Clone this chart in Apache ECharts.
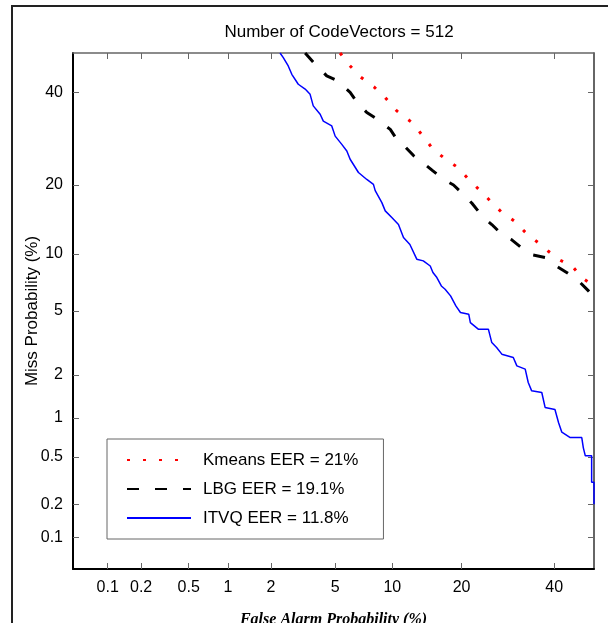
<!DOCTYPE html>
<html>
<head>
<meta charset="utf-8">
<script src="https://cdn.jsdelivr.net/npm/echarts@6/dist/echarts.min.js"></script>
<style>
  html, body { margin: 0; padding: 0; background: #fff; }
  #chart { width: 608px; height: 623px; }
</style>
</head>
<body>
<div id="chart"></div>
<script>
// tick labels (percent), same on both axes
const tickValues = [0.1, 0.2, 0.5, 1, 2, 5, 10, 20, 40]

// ITVQ curve: false alarm % / miss %
const itvqFa = [2.3, 2.41, 2.6, 2.74, 3.01, 3.32, 3.56, 3.72, 4.09, 4.27, 4.78, 5.0, 5.45, 5.81, 6.06, 6.72, 7.44, 8.05, 8.22, 8.88,
  9.23, 9.94, 10.7, 11.3, 12.1, 13.0, 13.9, 14.9, 15.3, 15.9, 16.6, 17.2, 18.1, 19.0, 19.8, 21.3, 21.6, 23.1, 25.1, 25.8,
  26.8, 27.9, 30.4, 31.2, 33.1, 33.8, 34.6, 37.0, 37.8, 40.2, 41.1, 41.9, 44.0, 46.9, 47.3, 47.8, 49.4, 49.4, 50, 50]
const itvqMiss = [50, 48.9, 46.7, 44.6, 42.1, 40.9, 39.6, 36.8, 34.8, 33.2, 32.1, 29.8, 28.0, 26.6, 24.9, 22.3, 21.0, 20.1, 19.0, 17.0,
  15.7, 14.7, 13.7, 11.96, 11.1, 9.43, 9.25, 8.72, 8.08, 7.61, 6.87, 6.60, 6.07, 5.34, 4.90, 4.79, 4.28, 3.91, 3.91, 3.24,
  3.02, 2.74, 2.61, 2.30, 2.19, 1.78, 1.56, 1.52, 1.19, 1.15, 0.92, 0.78, 0.71, 0.71, 0.59, 0.51, 0.51, 0.31, 0.31, 0.20]

// LBG curve
const lbgFa = [3.32, 3.81, 4.47, 5.10, 6.06, 6.63, 7.44, 8.43, 9.77, 10.5, 11.6, 12.6, 14.1, 15.3, 17.1, 18.6, 20.6, 21.9, 24.1, 25.8,
  28.2, 30.0, 32.3, 34.0, 37.8, 39.8, 43.1, 45.7, 48.6, 50]
const lbgMiss = [50, 47.2, 44.2, 43.1, 40.1, 37.6, 35.2, 33.6, 31.3, 29.1, 27.3, 25.6, 23.9, 22.6, 20.9, 20.0, 18.1, 16.9, 14.7, 13.7,
  12.2, 11.7, 10.7, 9.97, 9.61, 8.90, 8.08, 7.45, 6.46, 5.97]

// Kmeans curve
const kmFa = [5.33, 5.98, 6.86, 8.12, 9.23, 10.5, 12.5, 13.9, 15.3, 17.1, 19.3, 21.2, 22.8, 25.1, 27.7, 30.6, 33.2, 36.2, 38.6, 41.5,
  44.6, 46.9, 50]
const kmMiss = [50, 47.0, 44.0, 41.4, 38.8, 35.6, 32.7, 29.7, 27.0, 25.1, 23.3, 21.1, 19.6, 17.6, 15.6, 14.2, 12.6, 11.3, 10.3, 9.32,
  8.66, 7.61, 6.87]

const seriesNames = ["Kmeans EER = 21%", "LBG EER = 19.1%", "ITVQ EER = 11.8%"]

// inverse normal cdf (Acklam), DET plots use normal deviate scale
function probit(p) {
  const a = [-3.969683028665376e+01, 2.209460984245205e+02, -2.759285104469687e+02, 1.383577518672690e+02, -3.066479806614716e+01, 2.506628277459239e+00]
  const b = [-5.447609879822406e+01, 1.615858368580409e+02, -1.556989798598866e+02, 6.680131188771972e+01, -1.328068155288572e+01]
  const c = [-7.784894002430293e-03, -3.223964580411365e-01, -2.400758277161838e+00, -2.549732539343734e+00, 4.374664141464968e+00, 2.938163982698783e+00]
  const d = [7.784695709041462e-03, 3.224671290700398e-01, 2.445134137142996e+00, 3.754408661907416e+00]
  const plow = 0.02425
  if (p < plow) {
    const q = Math.sqrt(-2 * Math.log(p))
    return (((((c[0] * q + c[1]) * q + c[2]) * q + c[3]) * q + c[4]) * q + c[5]) / ((((d[0] * q + d[1]) * q + d[2]) * q + d[3]) * q + 1)
  }
  if (p <= 1 - plow) {
    const q = p - 0.5, r = q * q
    return (((((a[0] * r + a[1]) * r + a[2]) * r + a[3]) * r + a[4]) * r + a[5]) * q / (((((b[0] * r + b[1]) * r + b[2]) * r + b[3]) * r + b[4]) * r + 1)
  }
  return -probit(1 - p)
}

const pct = (v) => probit(v / 100)
const toPoints = (fa, miss) => fa.map((f, i) => [pct(f), pct(miss[i])])
const tickPos = tickValues.map(pct)
const tickLabel = (v) => {
  let best = 0
  tickPos.forEach((t, i) => { if (Math.abs(t - v) < Math.abs(tickPos[best] - v)) best = i })
  return String(tickValues[best])
}

const font = "Liberation Sans, Arial, sans-serif"
const xMin = -3.311
const yMin = pct(0.05)

const chart = echarts.init(document.getElementById("chart"), null, { renderer: "canvas" })

const mirrorTick = { show: true, inside: true, length: 6, customValues: tickPos, lineStyle: { color: "#666", width: 1 } }

chart.setOption({
  animation: false,
  backgroundColor: "#fff",
  title: {
    text: "Number of CodeVectors = 512",
    left: 334,
    top: 19,
    textAlign: "center",
    textStyle: { fontFamily: font, fontSize: 17, fontWeight: "normal", color: "#000" },
  },
  graphic: [
    {
      type: "rect",
      shape: { x: 12, y: 6, width: 640, height: 660 },
      style: { fill: "none", stroke: "#222", lineWidth: 2 },
      silent: true,
    },
  ],
  grid: { left: 73, top: 53, width: 521, height: 516, show: false, outerBoundsMode: "none", containLabel: false },
  legend: {
    data: seriesNames,
    orient: "vertical",
    left: 107,
    top: 439,
    itemWidth: 64,
    itemHeight: 14,
    itemGap: 9,
    padding: [11, 25, 11, 19],
    borderColor: "#666",
    borderWidth: 1,
    backgroundColor: "#fff",
    itemStyle: { opacity: 0 },
    textStyle: { fontFamily: font, fontSize: 17, color: "#000", lineHeight: 20, padding: [0, 0, 0, 7] },
  },
  xAxis: [
    {
      type: "value",
      min: xMin,
      max: 0,
      position: "bottom",
      name: "False Alarm Probability (%)",
      nameLocation: "middle",
      nameGap: 43,
      nameMoveOverlap: false,
      nameTextStyle: { fontFamily: "Liberation Serif, serif", fontStyle: "italic", fontWeight: "bold", fontSize: 16, color: "#000" },
      axisLine: { show: true, onZero: false, lineStyle: { color: "#000", width: 2 } },
      axisTick: mirrorTick,
      axisLabel: { customValues: tickPos, formatter: tickLabel, margin: 11, fontFamily: font, fontSize: 16, color: "#000" },
      splitLine: { show: false },
    },
    {
      type: "value",
      min: xMin,
      max: 0,
      position: "top",
      axisLine: { show: true, onZero: false, lineStyle: { color: "#666", width: 1.5 } },
      axisTick: mirrorTick,
      axisLabel: { show: false },
      splitLine: { show: false },
    },
  ],
  yAxis: [
    {
      type: "value",
      min: yMin,
      max: 0,
      position: "left",
      name: "Miss Probability (%)",
      nameLocation: "middle",
      nameGap: 32,
      nameMoveOverlap: false,
      nameTextStyle: { fontFamily: font, fontSize: 17, color: "#000" },
      axisLine: { show: true, onZero: false, lineStyle: { color: "#000", width: 2 } },
      axisTick: mirrorTick,
      axisLabel: { customValues: tickPos, formatter: tickLabel, margin: 10, fontFamily: font, fontSize: 16, color: "#000" },
      splitLine: { show: false },
    },
    {
      type: "value",
      min: yMin,
      max: 0,
      position: "right",
      axisLine: { show: true, onZero: false, lineStyle: { color: "#333", width: 1.5 } },
      axisTick: mirrorTick,
      axisLabel: { show: false },
      splitLine: { show: false },
    },
  ],
  series: [
    {
      name: seriesNames[2],
      type: "line",
      data: toPoints(itvqFa, itvqMiss),
      showSymbol: false,
      symbol: "none",
      lineStyle: { color: "#0000ff", width: 1.5 },
      itemStyle: { color: "#0000ff" },
    },
    {
      name: seriesNames[1],
      type: "line",
      data: toPoints(lbgFa, lbgMiss),
      showSymbol: false,
      symbol: "none",
      lineStyle: { color: "#000", width: 3, type: [12, 16] },
      itemStyle: { color: "#000" },
    },
    {
      name: seriesNames[0],
      type: "line",
      data: toPoints(kmFa, kmMiss),
      showSymbol: false,
      symbol: "none",
      lineStyle: { color: "#ff0000", width: 3, type: [3, 13] },
      itemStyle: { color: "#ff0000" },
    },
  ],
})
</script>
</body>
</html>
